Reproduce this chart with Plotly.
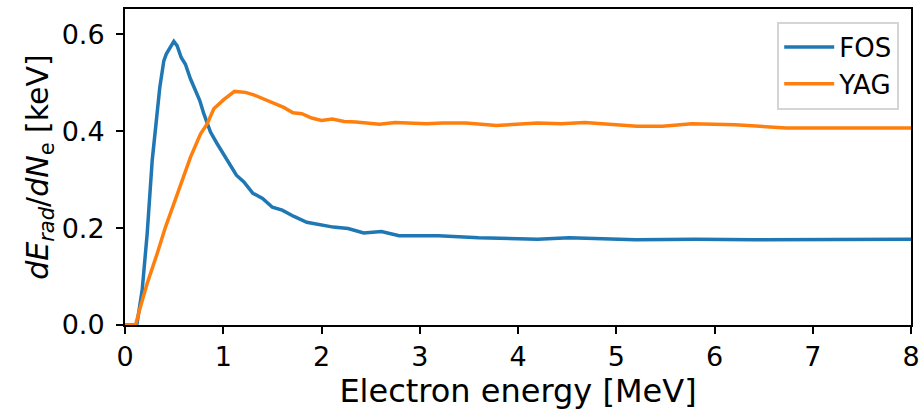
import plotly.graph_objects as go

energy_fos = [0, 0.12, 0.175, 0.226, 0.277, 0.327, 0.354, 0.395, 0.42, 0.497, 0.531, 0.572, 0.615,
              0.666, 0.717, 0.761, 0.802, 0.87, 0.938, 1.04, 1.134, 1.21, 1.30, 1.40, 1.50, 1.60,
              1.72, 1.85, 1.99, 2.12, 2.27, 2.43, 2.61, 2.79, 3.19, 3.60, 4.20, 4.52, 5.20, 5.81,
              6.41, 7.01, 8.0]
fos = [0, 0, 0.072, 0.189, 0.34, 0.449, 0.49, 0.545, 0.559, 0.585, 0.576, 0.552, 0.538,
       0.508, 0.483, 0.463, 0.436, 0.398, 0.374, 0.34, 0.309, 0.295, 0.272, 0.261, 0.243, 0.237,
       0.224, 0.212, 0.207, 0.202, 0.199, 0.190, 0.193, 0.184, 0.184, 0.180, 0.177, 0.180, 0.176,
       0.177, 0.176, 0.177, 0.177]

energy_yag = [0, 0.107, 0.158, 0.226, 0.327, 0.412, 0.497, 0.582, 0.666, 0.768, 0.836, 0.904, 1.005,
              1.114, 1.226, 1.31, 1.41, 1.51, 1.615, 1.71, 1.80, 1.90, 2.0, 2.11, 2.23, 2.35,
              2.59, 2.75, 3.07, 3.23, 3.47, 3.78, 4.20, 4.44, 4.68, 5.21, 5.47, 5.77, 6.21,
              6.73, 8.0]
yag = [0, 0, 0.038, 0.086, 0.147, 0.202, 0.250, 0.298, 0.346, 0.394, 0.415, 0.446, 0.465,
       0.482, 0.480, 0.475, 0.466, 0.457, 0.449, 0.438, 0.436, 0.427, 0.422, 0.425, 0.420, 0.419,
       0.414, 0.418, 0.415, 0.417, 0.417, 0.4115, 0.417, 0.415, 0.418, 0.410, 0.410, 0.415, 0.413,
       0.4065, 0.4065]

x_ticks = [0, 1, 2, 3, 4, 5, 6, 7, 8]
y_ticks = [0.0, 0.2, 0.4, 0.6]
y_tick_labels = ["0.0", "0.2", "0.4", "0.6"]

fig = go.Figure()
fig.add_trace(go.Scatter(x=energy_fos, y=fos, mode="lines", name="FOS",
                         line=dict(color="#1f77b4", width=3.5)))
fig.add_trace(go.Scatter(x=energy_yag, y=yag, mode="lines", name="YAG",
                         line=dict(color="#ff7f0e", width=3.5)))

font = "DejaVu Sans"
fig.update_layout(
    width=922, height=418,
    margin=dict(l=125, r=11, t=9, b=93),
    plot_bgcolor="white", paper_bgcolor="white",
    font=dict(family=font, size=27, color="black"),
    showlegend=True,
    legend=dict(x=0.985, y=0.96, xanchor="right", yanchor="top",
                bgcolor="rgba(255,255,255,0.8)", bordercolor="#d5d5d5", borderwidth=2,
                font=dict(family=font, size=26), itemwidth=50),
)
fig.update_xaxes(
    range=[0, 8], tickvals=x_ticks, ticktext=[str(t) for t in x_ticks], automargin=False,
    showgrid=False, zeroline=False, showline=True, linecolor="black", linewidth=2,
    mirror=True, ticks="outside", ticklen=7, tickwidth=2, tickcolor="black",
    tickfont=dict(family=font, size=27),
    title=dict(text="Electron energy [MeV]", font=dict(family=font, size=32), standoff=6),
)
fig.update_yaxes(
    range=[0, 0.652], tickvals=y_ticks, ticktext=y_tick_labels, automargin=False,
    showgrid=False, zeroline=False, showline=True, linecolor="black", linewidth=2,
    mirror=True, ticks="outside", ticklen=7, tickwidth=2, tickcolor="black",
    tickfont=dict(family=font, size=27), ticklabelstandoff=6,
    title=dict(text="<i>dE</i><sub><i>rad</i></sub>/<i>dN</i><sub>e</sub> [keV]",
               font=dict(family=font, size=30), standoff=4),
)

fig.write_html("out.html", config={"displayModeBar": False},
               post_script="document.body.style.margin='0';document.body.style.overflow='hidden';")
